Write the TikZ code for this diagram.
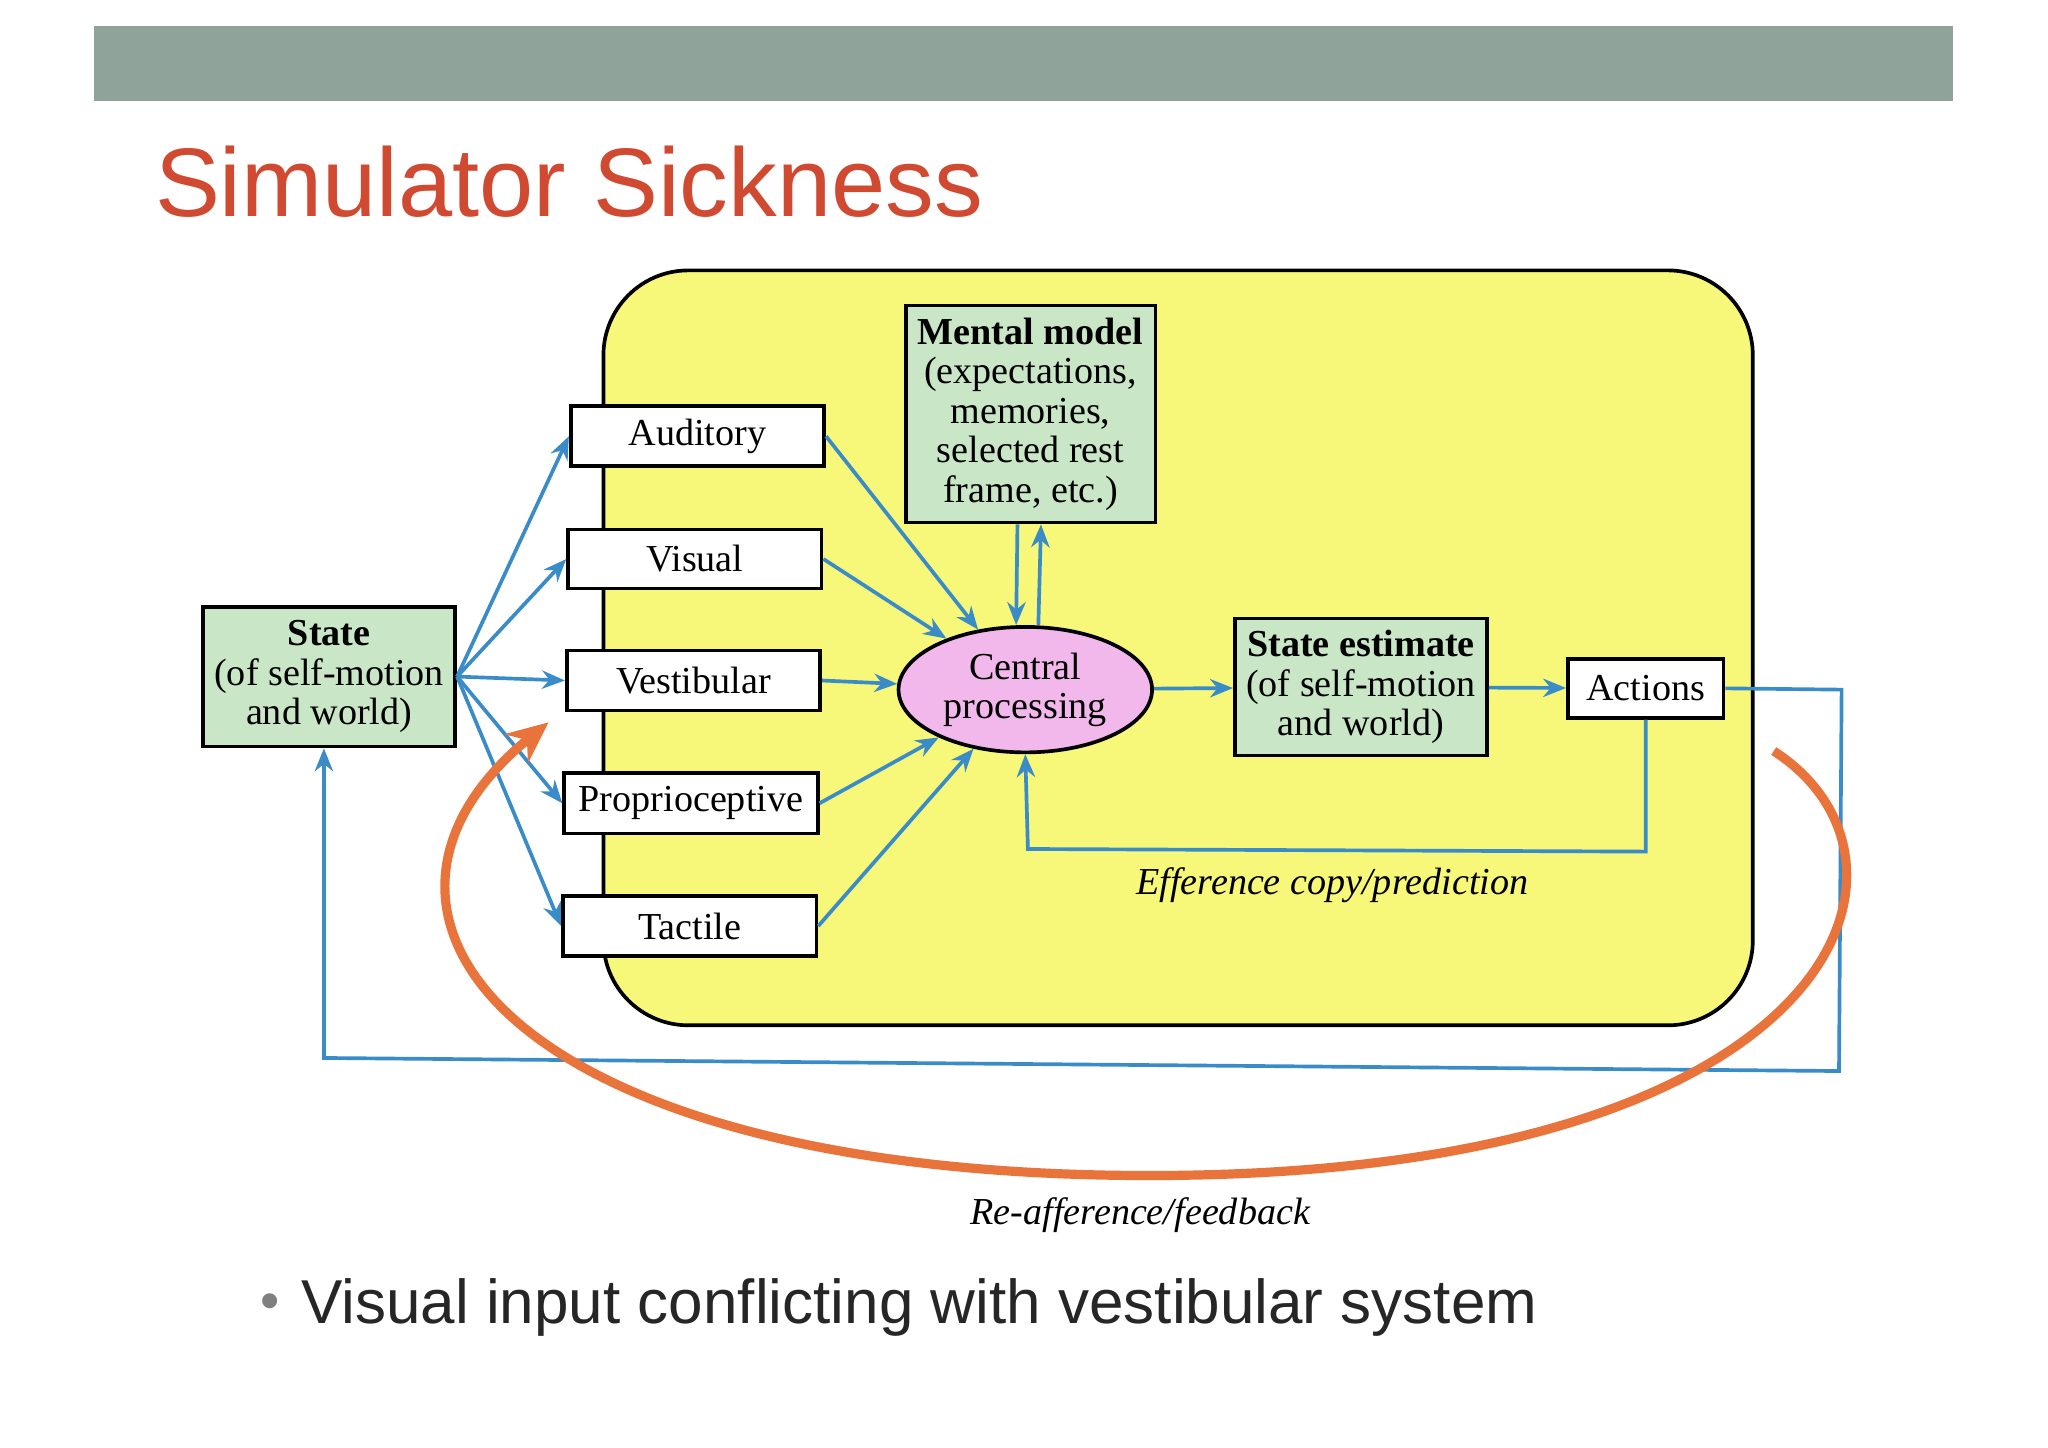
\documentclass[tikz,border=0pt]{standalone}
\usepackage{fontspec}
\newfontfamily\sansf{Liberation Sans}
\setmainfont{Liberation Serif}
\usetikzlibrary{shapes.geometric,arrows.meta}
\definecolor{barc}{HTML}{8FA39A}
\definecolor{titc}{HTML}{D04A32}
\definecolor{yel}{HTML}{F7F77A}
\definecolor{grn}{HTML}{C9E6C6}
\definecolor{pnk}{HTML}{F2B8EC}
\definecolor{blu}{HTML}{3A8CC8}
\definecolor{org}{HTML}{E8743B}
\begin{document}
\begin{tikzpicture}[x=0.01cm,y=-0.01cm,
  box/.style={draw=black,thick,fill=white,inner sep=0pt,font=\fontsize{8.3}{8.6}\selectfont,align=center},
  gbox/.style={box,fill=grn},
  arr/.style={draw=blu,thick,-{Stealth[length=5pt,width=4pt]}},
  lab/.style={font=\fontsize{8.3}{9}\selectfont\itshape}]
\useasboundingbox (0,0) rectangle (1568,1108);
\fill[white] (0,0) rectangle (1568,1108);
\fill[barc] (72,20) rectangle (1495,77);
\node[anchor=base west,text=titc,font=\sansf\fontsize{21.2}{26}\selectfont,inner sep=0] (title) at (118,166) {Simulator Sickness};
\filldraw[draw=black,thick,fill=yel,rounded corners=0.65cm] (462,207) rectangle (1342,785);
\node[gbox,minimum width=1.91cm,minimum height=1.66cm] (mm) at (789,317) {\textbf{Mental model}\\(expectations,\\memories,\\selected rest\\frame, etc.)};
\node[box,minimum width=1.94cm,minimum height=0.46cm] (aud) at (534,334) {Auditory};
\node[box,minimum width=1.94cm,minimum height=0.45cm] (vis) at (532,428) {Visual};
\node[box,minimum width=1.94cm,minimum height=0.46cm] (ves) at (531,521) {Vestibular};
\node[box,minimum width=1.94cm,minimum height=0.46cm] (pro) at (529,615) {Proprioceptive};
\node[box,minimum width=1.94cm,minimum height=0.46cm] (tac) at (528,709) {Tactile};
\node[gbox,minimum width=1.93cm,minimum height=1.07cm] (st) at (252,518) {\textbf{State}\\(of self-motion\\and world)};
\node[ellipse,draw=black,thick,fill=pnk,minimum width=1.94cm,minimum height=0.96cm,inner sep=0pt,font=\fontsize{8.3}{8.6}\selectfont,align=center] (cp) at (785,528) {Central\\processing};
\node[gbox,minimum width=1.93cm,minimum height=1.05cm] (se) at (1042,526) {\textbf{State estimate}\\(of self-motion\\and world)};
\node[box,minimum width=1.19cm,minimum height=0.45cm] (act) at (1260,527) {Actions};
\foreach \n in {aud,vis,ves,pro,tac}{
  \draw[arr] (st.east) -- (\n.west);
  \draw[arr] (\n.east) -- (cp);
}
\draw[arr] ([xshift=-0.1cm]mm.south) -- ([xshift=-0.07cm]cp.north);
\draw[arr] ([xshift=0.1cm]cp.north) -- ([xshift=0.08cm]mm.south);
\draw[arr] (cp) -- (se);
\draw[arr] (se) -- (act);
\coordinate (e1) at (1260,652); \coordinate (e2) at (787,650);
\draw[arr] (act.south) -- (e1) -- (e2) -- (cp.south);
\coordinate (f1) at (1410,528); \coordinate (f2) at (1408,820); \coordinate (f3) at (248,810);
\draw[arr] (act.east) -- (f1) -- (f2) -- (f3) -- (st.south -| f3);
\node[lab] (eff) at (1020,678) {Efference copy/prediction};
\coordinate (o1) at (1358,575); \coordinate (o2) at (880,900); \coordinate (o3) at (420,553);
\draw[org,line width=2pt,-{Stealth[length=9pt,width=8pt]}] (o1) .. controls (1490,660) and (1410,900) .. (o2) .. controls (390,900) and (240,700) .. (o3);
\node[lab] (re) at (873,930) {Re-afference/feedback};
\node[text=gray,font=\sansf\fontsize{12}{14}\selectfont,inner sep=0] (bul) at (207,1000) {•};
\node[anchor=base west,text=black!85,font=\sansf\fontsize{13.5}{16}\selectfont,inner sep=0] (btxt) at (230,1013) {Visual input conflicting with vestibular system};
\end{tikzpicture}
\end{document}
